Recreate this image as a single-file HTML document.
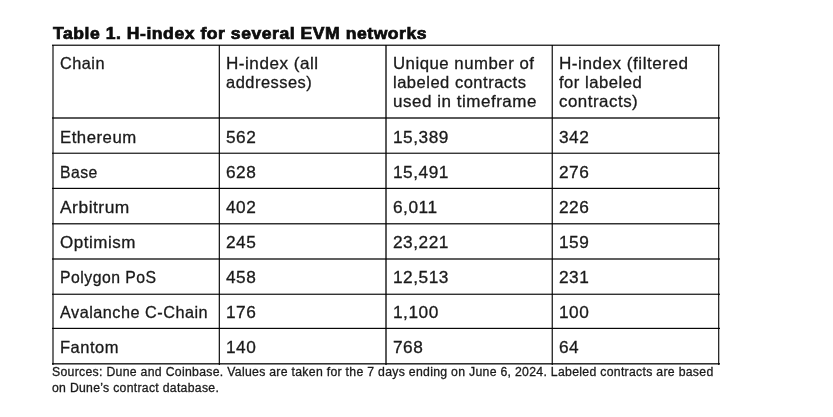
<!DOCTYPE html>
<html><head><meta charset="utf-8"><style>
html,body{margin:0;padding:0;background:#fff;}
body{width:833px;height:417px;position:relative;overflow:hidden;font-family:"Liberation Sans",sans-serif;}
.t{position:absolute;white-space:pre;transform-origin:0 0;line-height:20px;color:#1a1a1a;-webkit-text-stroke:0.3px #1a1a1a;}
.b{font-weight:bold;color:#0d0d0d;-webkit-text-stroke:0.7px #0d0d0d;}
#w{position:absolute;left:0;top:0;width:833px;height:417px;background:#fff;filter:blur(0.5px);}
.l{position:absolute;background:#2a2a2a;mix-blend-mode:multiply;}
</style></head><body><div id="w">
<div class="t b" style="left:53.05px;top:23.66px;font-size:16px;letter-spacing:0.5px;transform:scaleX(1.0964)">Table 1. H-index for several EVM networks</div>
<div class="t" style="left:59.70px;top:53.28px;font-size:16.5px;letter-spacing:0.5px;transform:scaleX(0.9869)">Chain</div>
<div class="t" style="left:226.10px;top:53.28px;font-size:16.5px;letter-spacing:0.5px;transform:scaleX(1.0349)">H-index (all</div>
<div class="t" style="left:226.10px;top:72.28px;font-size:16.5px;letter-spacing:0.5px;transform:scaleX(0.9961)">addresses)</div>
<div class="t" style="left:392.60px;top:53.28px;font-size:16.5px;letter-spacing:0.5px;transform:scaleX(1.0164)">Unique number of</div>
<div class="t" style="left:392.60px;top:72.28px;font-size:16.5px;letter-spacing:0.5px;transform:scaleX(1.0016)">labeled contracts</div>
<div class="t" style="left:392.60px;top:91.28px;font-size:16.5px;letter-spacing:0.5px;transform:scaleX(1.0310)">used in timeframe</div>
<div class="t" style="left:559.10px;top:53.28px;font-size:16.5px;letter-spacing:0.5px;transform:scaleX(1.0367)">H-index (filtered</div>
<div class="t" style="left:559.10px;top:72.28px;font-size:16.5px;letter-spacing:0.5px;transform:scaleX(1.0074)">for labeled</div>
<div class="t" style="left:559.10px;top:91.28px;font-size:16.5px;letter-spacing:0.5px;transform:scaleX(1.0231)">contracts)</div>
<div class="t" style="left:59.70px;top:127.28px;font-size:16.5px;letter-spacing:0.5px;transform:scaleX(1.0156)">Ethereum</div>
<div class="t" style="left:226.10px;top:127.28px;font-size:16.5px;letter-spacing:0.5px;transform:scaleX(1.0462)">562</div>
<div class="t" style="left:392.60px;top:127.28px;font-size:16.5px;letter-spacing:0.5px;transform:scaleX(1.0462)">15,389</div>
<div class="t" style="left:559.10px;top:127.28px;font-size:16.5px;letter-spacing:0.5px;transform:scaleX(1.0462)">342</div>
<div class="t" style="left:59.70px;top:162.28px;font-size:16.5px;letter-spacing:0.5px;transform:scaleX(0.9558)">Base</div>
<div class="t" style="left:226.10px;top:162.28px;font-size:16.5px;letter-spacing:0.5px;transform:scaleX(1.0462)">628</div>
<div class="t" style="left:392.60px;top:162.28px;font-size:16.5px;letter-spacing:0.5px;transform:scaleX(1.0462)">15,491</div>
<div class="t" style="left:559.10px;top:162.28px;font-size:16.5px;letter-spacing:0.5px;transform:scaleX(1.0462)">276</div>
<div class="t" style="left:59.70px;top:197.28px;font-size:16.5px;letter-spacing:0.5px;transform:scaleX(1.0533)">Arbitrum</div>
<div class="t" style="left:226.10px;top:197.28px;font-size:16.5px;letter-spacing:0.5px;transform:scaleX(1.0462)">402</div>
<div class="t" style="left:392.60px;top:197.28px;font-size:16.5px;letter-spacing:0.5px;transform:scaleX(1.0462)">6,011</div>
<div class="t" style="left:559.10px;top:197.28px;font-size:16.5px;letter-spacing:0.5px;transform:scaleX(1.0462)">226</div>
<div class="t" style="left:59.70px;top:232.28px;font-size:16.5px;letter-spacing:0.5px;transform:scaleX(1.0299)">Optimism</div>
<div class="t" style="left:226.10px;top:232.28px;font-size:16.5px;letter-spacing:0.5px;transform:scaleX(1.0462)">245</div>
<div class="t" style="left:392.60px;top:232.28px;font-size:16.5px;letter-spacing:0.5px;transform:scaleX(1.0462)">23,221</div>
<div class="t" style="left:559.10px;top:232.28px;font-size:16.5px;letter-spacing:0.5px;transform:scaleX(1.0462)">159</div>
<div class="t" style="left:59.70px;top:267.28px;font-size:16.5px;letter-spacing:0.5px;transform:scaleX(0.9574)">Polygon PoS</div>
<div class="t" style="left:226.10px;top:267.28px;font-size:16.5px;letter-spacing:0.5px;transform:scaleX(1.0462)">458</div>
<div class="t" style="left:392.60px;top:267.28px;font-size:16.5px;letter-spacing:0.5px;transform:scaleX(1.0462)">12,513</div>
<div class="t" style="left:559.10px;top:267.28px;font-size:16.5px;letter-spacing:0.5px;transform:scaleX(1.0462)">231</div>
<div class="t" style="left:59.70px;top:302.28px;font-size:16.5px;letter-spacing:0.5px;transform:scaleX(0.9851)">Avalanche C-Chain</div>
<div class="t" style="left:226.10px;top:302.28px;font-size:16.5px;letter-spacing:0.5px;transform:scaleX(1.0462)">176</div>
<div class="t" style="left:392.60px;top:302.28px;font-size:16.5px;letter-spacing:0.5px;transform:scaleX(1.0462)">1,100</div>
<div class="t" style="left:559.10px;top:302.28px;font-size:16.5px;letter-spacing:0.5px;transform:scaleX(1.0462)">100</div>
<div class="t" style="left:59.70px;top:337.28px;font-size:16.5px;letter-spacing:0.5px;transform:scaleX(0.9994)">Fantom</div>
<div class="t" style="left:226.10px;top:337.28px;font-size:16.5px;letter-spacing:0.5px;transform:scaleX(1.0462)">140</div>
<div class="t" style="left:392.60px;top:337.28px;font-size:16.5px;letter-spacing:0.5px;transform:scaleX(1.0462)">768</div>
<div class="t" style="left:559.10px;top:337.28px;font-size:16.5px;letter-spacing:0.5px;transform:scaleX(1.0462)">64</div>
<div class="t" style="left:51.97px;top:362.27px;font-size:12.5px;letter-spacing:0.3px;transform:scaleX(0.9808)">Sources: Dune and Coinbase. Values are taken for the 7 days ending on June 6, 2024. Labeled contracts are based</div>
<div class="t" style="left:52.22px;top:378.37px;font-size:12.5px;letter-spacing:0.3px;transform:scaleX(0.9783)">on Dune’s contract database.</div>
<div class="l" style="left:52px;top:45px;width:1px;height:320px;background:#707070"></div>
<div class="l" style="left:53px;top:45px;width:1px;height:320px;background:#707070"></div>
<div class="l" style="left:218px;top:45px;width:1px;height:320px;background:#bbb"></div>
<div class="l" style="left:219px;top:45px;width:1px;height:320px;background:#1e1e1e"></div>
<div class="l" style="left:385px;top:45px;width:1px;height:320px;background:#5a5a5a"></div>
<div class="l" style="left:386px;top:45px;width:1px;height:320px;background:#5a5a5a"></div>
<div class="l" style="left:551px;top:45px;width:1px;height:320px;background:#aaa"></div>
<div class="l" style="left:552px;top:45px;width:1px;height:320px;background:#333"></div>
<div class="l" style="left:718px;top:45px;width:1px;height:320px;background:#2a2a2a"></div>
<div class="l" style="left:719px;top:45px;width:1px;height:320px;background:#bbb"></div>
<div class="l" style="left:52px;top:44px;width:668px;height:1px;background:#a0a0a0"></div>
<div class="l" style="left:52px;top:45px;width:668px;height:1px;background:#333"></div>
<div class="l" style="left:52px;top:117px;width:668px;height:1px;background:#5a5a5a"></div>
<div class="l" style="left:52px;top:118px;width:668px;height:1px;background:#5a5a5a"></div>
<div class="l" style="left:52px;top:152px;width:668px;height:1px;background:#aaa"></div>
<div class="l" style="left:52px;top:153px;width:668px;height:1px;background:#3a3a3a"></div>
<div class="l" style="left:52px;top:187px;width:668px;height:1px;background:#ccc"></div>
<div class="l" style="left:52px;top:188px;width:668px;height:1px;background:#080808"></div>
<div class="l" style="left:52px;top:223px;width:668px;height:1px;background:#333"></div>
<div class="l" style="left:52px;top:224px;width:668px;height:1px;background:#999"></div>
<div class="l" style="left:52px;top:258px;width:668px;height:1px;background:#606060"></div>
<div class="l" style="left:52px;top:259px;width:668px;height:1px;background:#606060"></div>
<div class="l" style="left:52px;top:293px;width:668px;height:1px;background:#aaa"></div>
<div class="l" style="left:52px;top:294px;width:668px;height:1px;background:#333"></div>
<div class="l" style="left:52px;top:327px;width:668px;height:1px;background:#ccc"></div>
<div class="l" style="left:52px;top:328px;width:668px;height:1px;background:#080808"></div>
<div class="l" style="left:52px;top:363px;width:668px;height:1px;background:#333"></div>
<div class="l" style="left:52px;top:364px;width:668px;height:1px;background:#888"></div>
</div></body></html>
